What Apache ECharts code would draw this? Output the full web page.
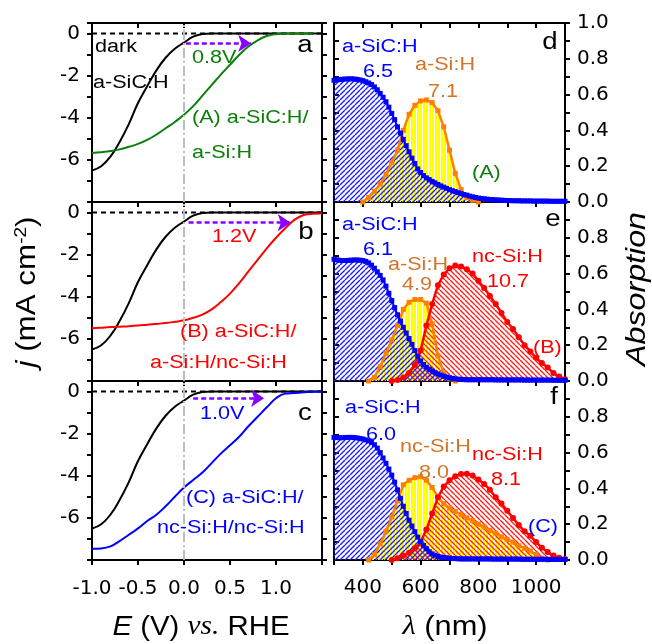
<!DOCTYPE html>
<html><head><meta charset="utf-8">
<script src="https://cdn.jsdelivr.net/npm/echarts@6/dist/echarts.min.js"></script>
<style>html,body{margin:0;padding:0;background:#fff}#c{width:652px;height:644px}</style>
</head><body><div id="c"></div>
<script>
// ---------------- DATA ----------------
// Left column: j-E curves (V vs RHE, mA cm^-2)
const E_dark = [-1.0, 1.5];
const J_dark = [0, 0];
const E_vals = [-1.0,-0.9,-0.8,-0.7,-0.6,-0.5,-0.4,-0.3,-0.2,-0.1,0.0,0.1,0.2,0.3,0.4,0.5,0.6,0.7,0.8,0.9,1.0,1.1,1.2,1.3,1.4,1.5];
const J_aSiC = [-6.5,-6.3,-5.85,-5.15,-4.3,-3.3,-2.5,-1.75,-1.15,-0.72,-0.43,-0.15,-0.02,0,0,0,0,0,0,0,0,0,0,0,0,0];
const J_A = [-5.67,-5.64,-5.58,-5.5,-5.38,-5.24,-5.05,-4.8,-4.5,-4.2,-3.86,-3.45,-2.95,-2.45,-1.95,-1.48,-1.02,-0.62,-0.32,-0.12,-0.03,0,0,0,0];
const J_B = [-5.5,-5.47,-5.44,-5.42,-5.4,-5.37,-5.33,-5.29,-5.25,-5.19,-5.12,-5.0,-4.85,-4.6,-4.25,-3.85,-3.35,-2.8,-2.25,-1.7,-1.2,-0.75,-0.35,-0.12,-0.06,-0.05];
const J_C = [-7.47,-7.45,-7.35,-7.1,-6.8,-6.5,-6.15,-5.85,-5.45,-5.0,-4.56,-4.2,-3.85,-3.4,-2.95,-2.55,-2.15,-1.65,-1.2,-0.75,-0.32,-0.1,-0.07,-0.04,-0.01,0];
// photovoltage shift arrows (a, b, c)
const arrowStartE = [0.02, 0.05, 0.1];
const arrowEndE = [0.73, 1.16, 0.87];
const arrowJ = [-0.47, -0.48, -0.32];
const shiftLabels = ['0.8V', '1.2V', '1.0V'];

// Right column: absorption spectra
const lam10 = [300,310,320,330,340,350,360,370,380,390,400,410,420,430,440,450,460,470,480,490,500,510,520,530,540,550,560,570,580,590,600,610,620,630,640,650,660,670,680,690,700,710,720,730,740,750,760,770,780,790,800,810,820,830,840,850,860,870,880,890,900,910,920,930,940,950,960,970,980,990,1000,1010,1020,1030,1040,1050,1060,1070,1080,1090,1100];
const absSiC_d = [.680,.682,.684,.686,.687,.688,.688,.687,.685,.682,.678,.672,.665,.656,.643,.627,.607,.585,.560,.530,.495,.460,.420,.385,.350,.315,.280,.245,.215,.185,.165,.148,.135,.125,.115,.107,.098,.090,.083,.076,.069,.063,.058,.052,.047,.042,.038,.033,.029,.025,.022,.020,.018,.016,.014,.013,.012,.011,.010,.009,.008,.008,.007,.007,.007,.006,.006,.006,.006,.005,.005,.005,.005,.005,.005,.004,.004,.004,.004,.004,.004];
const absSiC_e = [.680,.677,.674,.673,.673,.674,.675,.676,.676,.675,.673,.668,.660,.647,.630,.610,.590,.565,.530,.490,.450,.410,.370,.335,.300,.268,.237,.205,.170,.138,.112,.092,.077,.066,.056,.047,.040,.033,.027,.022,.018,.015,.012,.010,.009,.008,.007,.007,.007,.007,.007,.007,.007,.007,.007,.007,.006,.006,.006,.006,.006,.006,.006,.006,.006,.006,.005,.005,.005,.005,.005,.005,.005,.005,.005,.005,.004,.004,.004,.004,.004];
const absSiC_f = [.685,.684,.683,.683,.684,.685,.685,.684,.682,.679,.676,.671,.665,.657,.644,.625,.600,.570,.540,.508,.474,.435,.392,.345,.300,.260,.222,.190,.158,.128,.103,.082,.063,.046,.034,.026,.020,.016,.014,.012,.010,.009,.008,.007,.006,.006,.006,.006,.006,.006,.006,.006,.006,.006,.006,.005,.005,.005,.005,.005,.005,.005,.005,.005,.005,.004,.004,.004,.004,.004,.004,.004,.004,.004,.004,.003,.003,.003,.003,.003,.003];

const lamMid_d = [400,420,440,460,480,500,520,540,560,580,600,620,640,660,680,700,720,740,760,780,800];
const absMid_d = [0,.025,.06,.10,.155,.22,.29,.40,.49,.54,.565,.57,.555,.51,.42,.29,.16,.07,.025,.01,0];
const lamMid_e = [420,440,460,480,500,520,540,560,580,600,620,640,660,680,700,720];
const absMid_e = [0,.02,.08,.155,.23,.31,.40,.44,.455,.455,.435,.32,.14,.045,.012,0];
const lamMid_f = [420,440,460,480,500,520,540,560,580,600,620,640,660,680,700,720,740,760,780,800,820,840,860,880,900,920,940,960,980,1000,1020,1040];
const absMid_f = [0,.03,.09,.16,.24,.33,.42,.445,.46,.465,.445,.405,.35,.315,.29,.27,.255,.235,.22,.20,.185,.165,.15,.13,.115,.10,.08,.065,.05,.03,.01,0];

const lamBot = [500,520,540,560,580,600,620,640,660,680,700,720,740,760,780,800,820,840,860,880,900,920,940,960,980,1000,1020,1040,1060,1080,1100];
const absBot_e = [0,.005,.02,.045,.09,.17,.31,.43,.535,.595,.63,.645,.64,.625,.60,.56,.52,.475,.43,.38,.33,.29,.245,.20,.165,.13,.10,.075,.045,.025,.01];
const absBot_f = [0,.01,.025,.04,.065,.10,.17,.26,.35,.41,.445,.468,.48,.482,.472,.45,.425,.393,.35,.315,.275,.235,.195,.16,.135,.10,.068,.045,.025,.012,.006];

// ---------------- HELPERS ----------------
const zip = (xs, ys) => ys.map((y, i) => [xs[i], y]);
function pattern(kind, color, p, lw) {
  const c = document.createElement('canvas'); c.width = p; c.height = p;
  const ctx = c.getContext('2d');
  ctx.strokeStyle = color; ctx.fillStyle = color; ctx.lineWidth = lw;
  if (kind === '|') { ctx.fillRect(0, 0, lw, p); }
  else {
    ctx.beginPath();
    for (let k = -1; k <= 1; k++) {
      if (kind === '/') { ctx.moveTo(k * p, p); ctx.lineTo(k * p + p, 0); }
      else { ctx.moveTo(k * p, 0); ctx.lineTo(k * p + p, p); }
    }
    ctx.stroke();
  }
  return { image: c, repeat: 'repeat' };
}
const blueHatch = pattern('/', '#2020ff', 5, 1.4);
const redHatch = pattern('\\', '#ff2020', 5, 1.4);
const yellowHatch = pattern('|', '#ffff00', 3, 2);

const BLUE = '#0000ff', RED = '#ff0000', GREEN = '#0a800a', ORANGE = '#ff8000', OTEXT = '#d2752a', PURPLE = '#8a00ff';
const TOPS = [23, 202, 381], H = 179;
const LX = 92, LW = 230, RX = 334, RW = 231;
const lblFont = { color: '#000', fontSize: 20, fontFamily: 'DejaVu Sans' };

function ax(o) {
  return Object.assign({
    type: 'value', splitLine: { show: false },
    axisLine: { show: true, onZero: false, lineStyle: { color: '#000', width: 2 } },
  }, o);
}
function tick(inside) { return { show: true, inside: inside, length: 5, lineStyle: { color: '#000', width: 2 } }; }

const grids = [], xAxes = [], yAxes = [], series = [];
// left panels
for (let i = 0; i < 3; i++) {
  grids.push({ left: LX, top: TOPS[i], width: LW, height: H });
  const g = i;
  xAxes.push(ax({ gridIndex: g, position: 'bottom', min: -1, max: 1.5, interval: 0.5, axisTick: tick(false),
    axisLabel: i === 2 ? Object.assign({ show: true, margin: 19, formatter: v => v > 1.45 ? '' : v.toFixed(1) }, lblFont) : { show: false } }));
  xAxes.push(ax({ gridIndex: g, position: 'top', min: -1, max: 1.5, interval: 0.5, axisTick: tick(true), axisLabel: { show: false } }));
  yAxes.push(ax({ gridIndex: g, position: 'left', min: -8, max: 0.5, interval: 1, axisTick: tick(false),
    axisLabel: Object.assign({ show: true, margin: 12, formatter: v => { const r = Math.round(v); if (Math.abs(v - r) > 1e-6 || r % 2 !== 0 || r <= -8) return ''; return String(Math.abs(r) < 1e-9 ? 0 : r); } }, lblFont) }));
  yAxes.push(ax({ gridIndex: g, position: 'right', min: -8, max: 0.5, interval: 1, axisTick: tick(false), axisLabel: { show: false } }));
}
// right panels
for (let j = 0; j < 3; j++) {
  grids.push({ left: RX, top: TOPS[j], width: RW, height: H });
  const g = 3 + j;
  const showTop = j === 0;
  xAxes.push(ax({ gridIndex: g, position: 'bottom', min: 300, max: 1100, interval: 100, axisTick: tick(false),
    axisLabel: j === 2 ? Object.assign({ show: true, margin: 18, formatter: v => (v % 200 === 0 && v > 300 && v < 1100) ? String(v) : '' }, lblFont) : { show: false } }));
  xAxes.push(ax({ gridIndex: g, position: 'top', min: 300, max: 1100, interval: 100, axisTick: tick(true), axisLabel: { show: false } }));
  yAxes.push(ax({ gridIndex: g, position: 'left', min: 0, max: 1, interval: 0.1, axisTick: tick(true), axisLabel: { show: false } }));
  yAxes.push(ax({ gridIndex: g, position: 'right', min: 0, max: 1, interval: 0.1, axisTick: tick(false),
    axisLabel: Object.assign({ show: true, margin: 12, formatter: v => { const k = Math.round(v * 10); if (k === 10 && !showTop) return ''; return k % 2 === 0 ? (k / 10).toFixed(1) : ''; } }, lblFont) }));
}

const curveJ = [J_A, J_B, J_C];
const curveE = [E_vals.slice(0, J_A.length), E_vals, E_vals];
const curveColor = [GREEN, RED, BLUE];
for (let i = 0; i < 3; i++) {
  const xi = 2 * i, yi = 2 * i;
  series.push({ type: 'line', xAxisIndex: xi, yAxisIndex: yi, data: zip(E_dark, J_dark), symbol: 'none', silent: true,
    lineStyle: { color: '#000', width: 2, type: [5, 4] },
    markLine: { silent: true, symbol: ['none', 'none'], label: { show: false }, animation: false,
      lineStyle: { color: '#bdbdbd', width: 2, type: [10, 3, 2, 3] }, data: [{ xAxis: 0 }] } });
  series.push({ type: 'line', xAxisIndex: xi, yAxisIndex: yi, data: zip(E_vals, J_aSiC), symbol: 'none', smooth: 0.45, silent: true,
    lineStyle: { color: '#000', width: 2 } });
  series.push({ type: 'line', xAxisIndex: xi, yAxisIndex: yi, data: zip(curveE[i], curveJ[i]), symbol: 'none', smooth: 0.45, silent: true,
    lineStyle: { color: curveColor[i], width: 2 },
    markLine: { silent: true, symbol: ['none', 'arrow'], symbolSize: 13, label: { show: false }, animation: false,
      lineStyle: { color: PURPLE, width: 2.5, type: [5, 3] },
      data: [[{ coord: [arrowStartE[i], arrowJ[i]] }, { coord: [arrowEndE[i], arrowJ[i]] }]] } });
}

const spectra = [
  { mid: [lamMid_d, absMid_d], bot: null, sic: absSiC_d },
  { mid: [lamMid_e, absMid_e], bot: absBot_e, sic: absSiC_e },
  { mid: [lamMid_f, absMid_f], bot: absBot_f, sic: absSiC_f },
];
for (let j = 0; j < 3; j++) {
  const g = 3 + j, xi = 2 * g, yi = 2 * g + 1;
  const s = spectra[j];
  series.push({ type: 'line', xAxisIndex: xi, yAxisIndex: yi, data: zip(s.mid[0], s.mid[1]), silent: true,
    symbol: 'rect', symbolSize: 5, itemStyle: { color: ORANGE }, lineStyle: { color: ORANGE, width: 2.5 },
    areaStyle: { color: yellowHatch, opacity: 1 } });
  if (s.bot) series.push({ type: 'line', xAxisIndex: xi, yAxisIndex: yi, data: zip(lamBot, s.bot), silent: true,
    symbol: 'circle', symbolSize: 6, itemStyle: { color: RED }, lineStyle: { color: RED, width: 2.5 },
    areaStyle: { color: redHatch, opacity: 1 } });
  series.push({ type: 'line', xAxisIndex: xi, yAxisIndex: yi, data: zip(lam10, s.sic), silent: true,
    symbol: 'rect', symbolSize: 5, itemStyle: { color: BLUE }, lineStyle: { color: BLUE, width: 2 },
    areaStyle: { color: blueHatch, opacity: 1 } });
}

// ---------------- TEXT ----------------
const SX = 1.2;
function T(text, x, y, color, size, align, extra) {
  return Object.assign({ type: 'text', x: x, y: y, scaleX: SX, silent: true, z: 100,
    style: { text: text, fill: color, fontSize: size, fontFamily: 'Liberation Sans', align: align || 'left', verticalAlign: 'middle' } }, extra || {});
}
const graphics = [
  T('dark', 95, 47, '#000', 18), T('a-SiC:H', 93, 83, '#000', 18),
  T(shiftLabels[0], 192, 58, GREEN, 18), T('(A) a-SiC:H/', 192, 118, GREEN, 18), T('a-Si:H', 192, 153, GREEN, 18),
  T('a', 305, 46, '#000', 23, 'center'),
  T(shiftLabels[1], 212, 237, RED, 18), T('(B) a-SiC:H/', 180, 332, RED, 18), T('a-Si:H/nc-Si:H', 150, 363, RED, 18),
  T('b', 306, 233, '#000', 23, 'center'),
  T(shiftLabels[2], 200, 414, BLUE, 18), T('(C) a-SiC:H/', 186, 498, BLUE, 18), T('nc-Si:H/nc-Si:H', 157, 528, BLUE, 18),
  T('c', 305, 414, '#000', 23, 'center'),
  // right panels
  T('a-SiC:H', 342, 47, BLUE, 18), T('6.5', 378, 72, BLUE, 18, 'center'),
  T('a-Si:H', 415, 65, OTEXT, 18), T('7.1', 443, 92, OTEXT, 18, 'center'),
  T('(A)', 472, 173, GREEN, 18), T('d', 550, 43, '#000', 23, 'center'),
  T('a-SiC:H', 342, 225, BLUE, 18), T('6.1', 378, 250, BLUE, 18, 'center'),
  T('a-Si:H', 388, 265, OTEXT, 18), T('4.9', 417, 285, OTEXT, 18, 'center'),
  T('nc-Si:H', 472, 257, RED, 18), T('10.7', 508, 282, RED, 18, 'center'),
  T('(B)', 533, 348, RED, 18), T('e', 553, 220, '#000', 23, 'center'),
  T('a-SiC:H', 345, 408, BLUE, 18), T('6.0', 381, 435, BLUE, 18, 'center'),
  T('nc-Si:H', 400, 447, OTEXT, 18), T('8.0', 434, 473, OTEXT, 18, 'center'),
  T('nc-Si:H', 472, 455, RED, 18), T('8.1', 506, 480, RED, 18, 'center'),
  T('(C)', 528, 527, BLUE, 18), T('f', 554, 398, '#000', 23, 'center'),
  // axis titles
  { type: 'text', x: 201, y: 627, scaleX: 1.05, silent: true,
    style: { text: '{i|E} (V) {v|vs.} RHE', fill: '#000', fontSize: 28, fontFamily: 'Liberation Sans', align: 'center', verticalAlign: 'middle',
      rich: { i: { fontStyle: 'italic', fontSize: 28, fontFamily: 'Liberation Sans' }, v: { fontStyle: 'italic', fontSize: 28, fontFamily: 'Liberation Serif' } } } },
  { type: 'text', x: 445, y: 627, scaleX: 1.1, silent: true,
    style: { text: '{l|λ} (nm)', fill: '#000', fontSize: 28, fontFamily: 'Liberation Sans', align: 'center', verticalAlign: 'middle',
      rich: { l: { fontStyle: 'italic', fontSize: 28, fontFamily: 'Liberation Serif' } } } },
  { type: 'text', x: 27, y: 292, rotation: Math.PI / 2, scaleX: 1.12, silent: true,
    style: { text: '{i|j} (mA cm{s|-2})', fill: '#000', fontSize: 28, fontFamily: 'Liberation Sans', align: 'center', verticalAlign: 'middle',
      rich: { i: { fontStyle: 'italic', fontSize: 28, fontFamily: 'Liberation Sans' }, s: { fontSize: 17, verticalAlign: 'top', fontFamily: 'Liberation Sans' } } } },
  { type: 'text', x: 637, y: 289, rotation: Math.PI / 2, scaleX: 1.15, silent: true,
    style: { text: 'Absorption', fill: '#000', fontSize: 28, fontStyle: 'italic', fontFamily: 'Liberation Sans', align: 'center', verticalAlign: 'middle' } },
];

const chart = echarts.init(document.getElementById('c'), null, { renderer: 'canvas', width: 652, height: 644 });
chart.setOption({
  backgroundColor: '#fff', animation: false,
  grid: grids, xAxis: xAxes, yAxis: yAxes, series: series, graphic: graphics,
});
</script></body></html>
